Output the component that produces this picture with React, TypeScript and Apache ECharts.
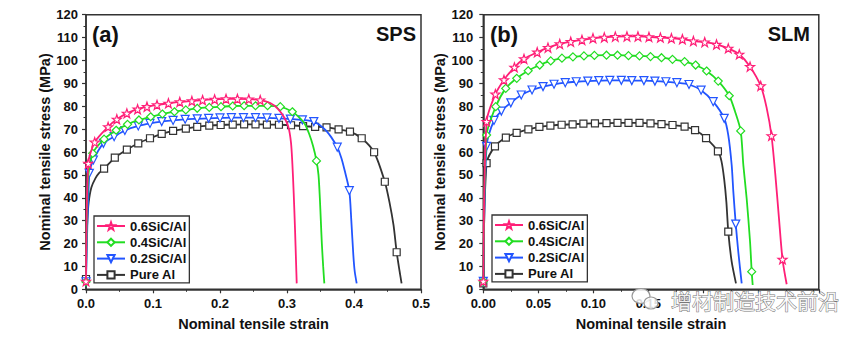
import React, { useEffect, useRef } from 'react';
import * as echarts from 'echarts';

// ---------- data ----------
const seriesNames = ['0.6SiC/Al', '0.4SiC/Al', '0.2SiC/Al', 'Pure Al'];
const panelTags = ['(a)', '(b)'];
const panelProcesses = ['SPS', 'SLM'];
const xTitle = 'Nominal tensile strain';
const yTitle = 'Nominal tensile stress (MPa)';
const watermarkText = '增材制造技术前沿';
// tick labels of the SLM strain axis that the watermark covers in the reference
const slmHiddenFrom = 0.2;

// SPS panel: points carrying a marker, and extra points of the line without marker
const sps06Marks = [[0, 3.5], [0.0034, 55], [0.013, 64.3], [0.033, 71], [0.046, 74.3], [0.061, 76.9], [0.077, 78.7], [0.091, 79.8], [0.106, 80.6], [0.123, 81.3], [0.14, 81.9], [0.158, 82.3], [0.174, 82.7], [0.192, 83.0], [0.209, 83.2], [0.226, 83.2], [0.243, 83.1], [0.26, 82.7]];
const sps06Plain = [[0.275, 81.4], [0.286, 79], [0.295, 75.5], [0.302, 71], [0.306, 64], [0.308, 55], [0.31, 42], [0.312, 26], [0.3135, 12], [0.3145, 2.6]];
const sps04Marks = [[0, 3.3], [0.01, 59.4], [0.027, 65.6], [0.045, 69.5], [0.062, 72.1], [0.079, 74.0], [0.0965, 75.4], [0.114, 76.6], [0.132, 77.6], [0.149, 78.4], [0.166, 79.1], [0.184, 79.5], [0.2015, 79.8], [0.219, 80.1], [0.236, 80.2], [0.253, 80.2], [0.271, 80.2], [0.29, 79.8], [0.308, 77.6], [0.344, 56.1]];
const sps04Plain = [[0.003, 48], [0.317, 75.5], [0.326, 72.6], [0.333, 68], [0.339, 62.5], [0.347, 50], [0.349, 40], [0.3505, 30], [0.352, 20], [0.354, 10], [0.3557, 2.6]];
const sps02Marks = [[0, 3.3], [0.005, 50.7], [0.011, 56.5], [0.026, 63.8], [0.042, 66.7], [0.058, 69.4], [0.078, 71.4], [0.0955, 72.5], [0.113, 73.3], [0.13, 73.8], [0.148, 74.3], [0.166, 74.5], [0.183, 74.7], [0.2, 74.9], [0.217, 75.0], [0.235, 75.0], [0.253, 75.0], [0.27, 74.9], [0.288, 74.7], [0.305, 74.4], [0.323, 74.0], [0.34, 73.3], [0.375, 62.1], [0.393, 43.1]];
const sps02Plain = [[0.35, 71.5], [0.358, 69.5], [0.366, 66.5], [0.381, 57.5], [0.386, 52], [0.396, 30], [0.399, 15], [0.401, 8], [0.404, 2.6]];
const spsAlMarks = [[0, 4.5], [0.027, 52.7], [0.043, 57.5], [0.061, 61], [0.078, 63.8], [0.0955, 66], [0.113, 67.9], [0.13, 69.2], [0.149, 70.2], [0.166, 71.0], [0.184, 71.5], [0.201, 71.8], [0.219, 72.0], [0.236, 72.1], [0.253, 72.1], [0.27, 72.0], [0.288, 71.9], [0.306, 71.7], [0.324, 71.3], [0.342, 71.0], [0.359, 70.8], [0.377, 69.9], [0.394, 68.9], [0.4115, 66], [0.43, 59.9], [0.446, 47], [0.4637, 16.2]];
const spsAlPlain = [[0.0008, 20], [0.002, 30], [0.004, 38], [0.008, 44.5], [0.014, 48.5], [0.02, 51], [0.453, 38], [0.459, 28], [0.468, 8], [0.471, 2.6]];

// SLM panel
const slm06Marks = [[0, 3.5], [0.003, 73.3], [0.011, 85.3], [0.0188, 91.5], [0.0283, 97], [0.037, 100.7], [0.049, 103.6], [0.0588, 105.6], [0.0695, 107.2], [0.0795, 108.2], [0.0897, 109], [0.0997, 109.7], [0.11, 110.1], [0.12, 110.4], [0.1306, 110.5], [0.1406, 110.5], [0.1506, 110.3], [0.161, 110], [0.171, 109.7], [0.181, 109.3], [0.191, 108.5], [0.2013, 108], [0.212, 107], [0.2227, 105.3], [0.2327, 102.7], [0.2425, 97.3], [0.2522, 88.9], [0.262, 67.1], [0.272, 13.1]];
const slm06Plain = [[0.2575, 79.5], [0.2655, 50], [0.2688, 31], [0.2758, 2.2]];
const slm04Marks = [[0, 3.5], [0.003, 67.4], [0.0113, 79.8], [0.0204, 87.8], [0.0304, 92.2], [0.0408, 95.5], [0.0513, 98], [0.0613, 99.8], [0.0715, 101], [0.0815, 101.6], [0.0915, 102], [0.101, 102.2], [0.112, 102.3], [0.122, 102.3], [0.132, 102.1], [0.142, 102], [0.152, 101.7], [0.162, 101.2], [0.172, 100.5], [0.183, 99.5], [0.193, 98], [0.203, 95.4], [0.2136, 91.0], [0.2236, 84.6], [0.234, 69.2], [0.244, 7.7]];
const slm04Plain = [[0.2288, 77.8], [0.2364, 54.3], [0.2394, 39.8], [0.2425, 20.8], [0.2449, 1.9]];
const slm02Marks = [[0, 3.5], [0.003, 62.5], [0.0097, 73.8], [0.0164, 77.9], [0.025, 81.5], [0.0345, 84.9], [0.0443, 87.1], [0.0543, 88.6], [0.0643, 89.6], [0.0745, 90.3], [0.0845, 90.7], [0.095, 91.0], [0.105, 91.2], [0.115, 91.3], [0.1255, 91.3], [0.135, 91.2], [0.146, 91.2], [0.156, 91.0], [0.166, 90.7], [0.176, 90.3], [0.187, 89.5], [0.198, 87], [0.209, 82], [0.219, 74.7], [0.2295, 28.5]];
const slm02Plain = [[0.2227, 67.4], [0.2258, 54.3], [0.2273, 42.7], [0.2318, 16.4], [0.2349, 2.6]];
const slmAlMarks = [[0, 2.6], [0.003, 55.1], [0.0106, 62.5], [0.0205, 66.3], [0.0303, 68.4], [0.041, 69.9], [0.051, 71.0], [0.061, 71.5], [0.0712, 71.9], [0.0812, 72.1], [0.091, 72.4], [0.1015, 72.5], [0.112, 72.6], [0.122, 72.7], [0.132, 72.7], [0.142, 72.7], [0.152, 72.5], [0.162, 72.2], [0.172, 71.8], [0.183, 71.1], [0.1925, 69.6], [0.2025, 66.1], [0.2133, 60.3], [0.2227, 25.2]];
const slmAlPlain = [[0.2165, 56], [0.219, 48], [0.221, 38], [0.2258, 12.1], [0.2297, 2.6]];

const spsCurves = [[sps06Marks, sps06Plain], [sps04Marks, sps04Plain], [sps02Marks, sps02Plain], [spsAlMarks, spsAlPlain]];
const slmCurves = [[slm06Marks, slm06Plain], [slm04Marks, slm04Plain], [slm02Marks, slm02Plain], [slmAlMarks, slmAlPlain]];

// ---------- styles ----------
const colors = ['#ff1f77', '#22dd22', '#2255ff', '#333333'];
const STAR = 'path://M0,-10 L2.35,-3.24 L9.51,-3.09 L3.8,1.24 L5.88,8.09 L0,4 L-5.88,8.09 L-3.8,1.24 L-9.51,-3.09 L-2.35,-3.24 Z';
const DIAMOND = 'path://M0,-10 L10,0 L0,10 L-10,0 Z';
const DOWN_TRI = 'path://M-10,-8 L10,-8 L0,10 Z';
const symbols = [STAR, DIAMOND, DOWN_TRI, 'rect'];
const symbolSizes = [9, 8, 8, 7];
const FONT = '"Liberation Sans", Arial, Helvetica, sans-serif';
const AXIS_COLOR = '#333';

function mergeCurve(marks: number[][], plain: number[][]) {
  const items: any[] = [
    ...marks.map((p) => ({ value: p })),
    ...plain.map((p) => ({ value: p, symbol: 'none' })),
  ];
  items.sort((a, b) => a.value[0] - b.value[0]);
  return items;
}

function makeXAxis(gridIndex: number, max: number, interval: number, digits: number, hideFrom: number) {
  return {
    type: 'value', gridIndex, min: 0, max, interval,
    axisLine: { show: true, onZero: false, lineStyle: { color: AXIS_COLOR, width: 1.5 } },
    axisTick: { show: true, inside: false, length: 4, lineStyle: { color: AXIS_COLOR, width: 1.2 } },
    minorTick: { show: true, splitNumber: 2, length: 2.5, lineStyle: { color: AXIS_COLOR, width: 1 } },
    splitLine: { show: false },
    axisLabel: {
      margin: 8, fontSize: 13, fontWeight: 'bold', color: '#111', fontFamily: FONT,
      formatter: (v: number) => {
        const k = v / interval;
        if (Math.abs(k - Math.round(k)) > 1e-6) return '';
        if (v >= hideFrom - 1e-9) return '';
        return v.toFixed(digits);
      },
    },
    name: xTitle, nameLocation: 'middle', nameGap: 27,
    nameTextStyle: { fontSize: 14.5, fontWeight: 'bold', color: '#111', fontFamily: FONT },
  };
}

function makeYAxis(gridIndex: number, nameGap: number, margin: number) {
  return {
    type: 'value', gridIndex, min: 0, max: 120, interval: 10,
    axisLine: { show: true, onZero: false, lineStyle: { color: AXIS_COLOR, width: 1.5 } },
    axisTick: { show: true, inside: false, length: 4, lineStyle: { color: AXIS_COLOR, width: 1.2 } },
    minorTick: { show: true, splitNumber: 2, length: 2.5, lineStyle: { color: AXIS_COLOR, width: 1 } },
    splitLine: { show: false },
    axisLabel: { margin, fontSize: 13, fontWeight: 'bold', color: '#111', fontFamily: FONT },
    name: yTitle, nameLocation: 'middle', nameGap,
    nameTextStyle: { fontSize: 14.5, fontWeight: 'bold', color: '#111', fontFamily: FONT },
  };
}

function makeSeries(curves: number[][][][], axisIndex: number) {
  return curves.map(([marks, plain], i) => ({
    type: 'line',
    name: seriesNames[i],
    xAxisIndex: axisIndex,
    yAxisIndex: axisIndex,
    data: mergeCurve(marks, plain),
    smooth: 0.25,
    symbol: symbols[i],
    symbolSize: symbolSizes[i],
    showSymbol: true,
    z: 10 - i,
    lineStyle: { color: colors[i], width: 1.8 },
    itemStyle: { color: '#ffffff', borderColor: colors[i], borderWidth: 1.2 },
    emphasis: { disabled: true },
  }));
}

function makeLegend(left: number, top: number) {
  return {
    data: seriesNames,
    orient: 'vertical',
    left, top,
    itemWidth: 28, itemHeight: 9, itemGap: 2.3,
    padding: [3, 3, 1, 2],
    borderColor: '#333', borderWidth: 1.3,
    selectedMode: false,
    textStyle: { fontSize: 13, fontWeight: 'bold', color: '#111', fontFamily: FONT, lineHeight: 14 },
  };
}

export default function App() {
  const ref = useRef<HTMLDivElement>(null);
  useEffect(() => {
    if (!ref.current) return;
    const chart = echarts.init(ref.current, undefined, { renderer: 'svg' });
    const grids = [
      { left: 86, top: 14.7, width: 335, height: 274.6 },
      { left: 483.3, top: 14.7, width: 335.5, height: 274.6 },
    ].map((g) => ({ ...g, show: true, borderColor: AXIS_COLOR, borderWidth: 1.5, backgroundColor: 'transparent' }));

    const option = {
      animation: false,
      backgroundColor: '#ffffff',
      grid: grids,
      xAxis: [makeXAxis(0, 0.5, 0.1, 1, 1), makeXAxis(1, 0.305, 0.05, 2, slmHiddenFrom)],
      yAxis: [makeYAxis(0, 32, 8), makeYAxis(1, 34, 10)],
      legend: [makeLegend(94, 216), makeLegend(492, 215)],
      series: [...makeSeries(spsCurves, 0), ...makeSeries(slmCurves, 1)],
      graphic: [
        { type: 'text', left: 92, top: 23, style: { text: panelTags[0], font: `bold 22px ${FONT}`, fill: '#111' } },
        { type: 'text', x: 416, y: 24, style: { text: panelProcesses[0], font: `bold 20px ${FONT}`, fill: '#111', align: 'right', verticalAlign: 'top' } },
        { type: 'text', left: 490, top: 23, style: { text: panelTags[1], font: `bold 22px ${FONT}`, fill: '#111' } },
        { type: 'text', x: 810, y: 24, style: { text: panelProcesses[1], font: `bold 20px ${FONT}`, fill: '#111', align: 'right', verticalAlign: 'top' } },
        // watermark
        { type: 'ellipse', shape: { cx: 641, cy: 296, rx: 9, ry: 7.5 }, style: { fill: 'rgba(255,255,255,0.85)', stroke: '#999', lineWidth: 1.2 }, z: 100 },
        { type: 'ellipse', shape: { cx: 651, cy: 303, rx: 7, ry: 6 }, style: { fill: 'rgba(255,255,255,0.85)', stroke: '#999', lineWidth: 1.2 }, z: 101 },
        { type: 'text', x: 671, y: 300, z: 102, style: { text: watermarkText, font: '21px "Noto Sans CJK SC", sans-serif', fill: 'rgba(255,255,255,0.9)', stroke: '#777', lineWidth: 1, verticalAlign: 'middle' } },
      ],
    };
    chart.setOption(option as any);
    return () => chart.dispose();
  }, []);
  return <div ref={ref} style={{ position: 'absolute', left: 0, top: 0, width: 865, height: 339, background: '#fff' }} />;
}
